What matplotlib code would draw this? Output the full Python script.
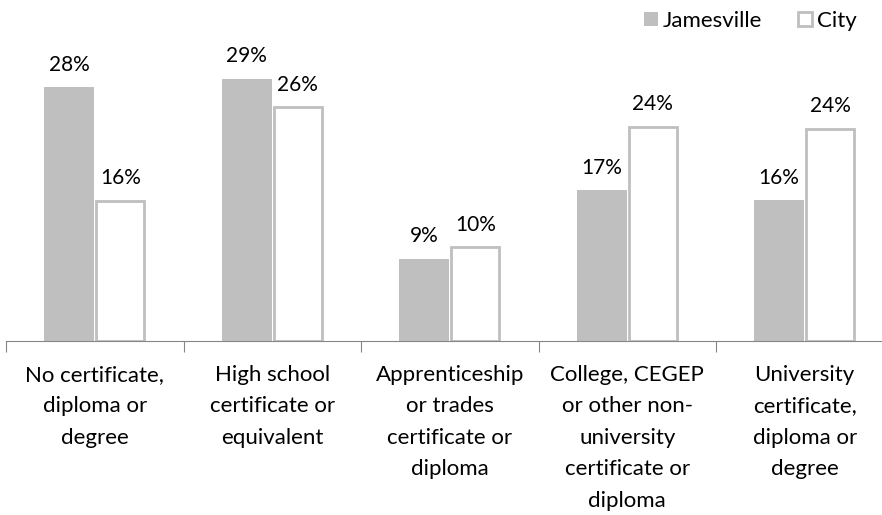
import numpy as np
import matplotlib.pyplot as plt

plt.rcParams['font.family'] = ['Lato', 'DejaVu Sans']

categories = [
    "No certificate,\ndiploma or\ndegree",
    "High school\ncertificate or\nequivalent",
    "Apprenticeship\nor trades\ncertificate or\ndiploma",
    "College, CEGEP\nor other non-\nuniversity\ncertificate or\ndiploma",
    "University\ncertificate,\ndiploma or\ndegree",
]
jamesville = [28.1, 29.0, 9.1, 16.7, 15.6]
city = [15.5, 25.9, 10.4, 23.7, 23.5]

fig = plt.figure(figsize=(8.82, 5.15), dpi=100)
ax = fig.add_axes([6 / 882, 1 - 341 / 515, 887.5 / 882, 300 / 515])

x = np.arange(len(categories))
w = 0.28
gap = 0.004
bj = ax.bar(x - w / 2 - gap, jamesville, w, color='#bfbfbf', label='Jamesville')
bc = ax.bar(x + w / 2 + gap, city, w - 0.01, color='white', edgecolor='#bfbfbf',
            linewidth=2, label='City')

for rect, v in zip(list(bj) + list(bc), jamesville + city):
    ax.annotate(f"{v:.0f}%", (rect.get_x() + rect.get_width() / 2, v),
                xytext=(0, 9), textcoords='offset points', ha='center', va='bottom', fontsize=15)

ax.set_xlim(-0.5, 4.5)
ax.set_ylim(0, 300 / 262 * 29)
for s in ['top', 'right', 'left']:
    ax.spines[s].set_visible(False)
ax.spines['bottom'].set_color('#868686')
ax.set_yticks([])
ax.set_xticks(np.arange(-0.5, 5, 1))
ax.set_xticklabels([])
ax.tick_params(axis='x', length=8, color='#868686', direction='out')
for i, lab in enumerate(categories):
    ax.annotate(lab, (i, 0), xytext=(0, -17), textcoords='offset points',
                ha='center', va='top', fontsize=16, linespacing=1.72)

ax.legend(loc='upper right', bbox_to_anchor=(860 / 887.5, 339 / 300), ncol=2, frameon=False,
          fontsize=16, handlelength=0.62, handleheight=0.62, handletextpad=0.25,
          columnspacing=1.6, borderaxespad=0)

fig.savefig('out.png', dpi=100)
